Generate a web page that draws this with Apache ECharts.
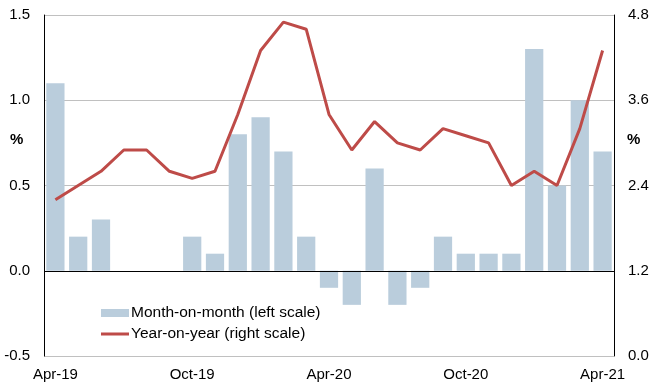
<!DOCTYPE html>
<html>
<head>
<meta charset="utf-8">
<script src="https://cdn.jsdelivr.net/npm/echarts@6/dist/echarts.min.js"></script>
<style>html,body{margin:0;padding:0;background:#fff;}#c{width:652px;height:388px;}</style>
</head>
<body>
<div id="c"></div>
<script>
var categories = ['Apr-19','May-19','Jun-19','Jul-19','Aug-19','Sep-19','Oct-19','Nov-19','Dec-19','Jan-20','Feb-20','Mar-20','Apr-20','May-20','Jun-20','Jul-20','Aug-20','Sep-20','Oct-20','Nov-20','Dec-20','Jan-21','Feb-21','Mar-21','Apr-21'];
var momValues = [1.1,0.2,0.3,0,0,0,0.2,0.1,0.8,0.9,0.7,0.2,-0.1,-0.2,0.6,-0.2,-0.1,0.2,0.1,0.1,0.1,1.3,0.5,1.0,0.7];
var yoyValues = [2.2,2.4,2.6,2.9,2.9,2.6,2.5,2.6,3.4,4.3,4.7,4.6,3.4,2.9,3.3,3.0,2.9,3.2,3.1,3.0,2.4,2.6,2.4,3.2,4.3];
var leftTicks = [-0.5,0.0,0.5,1.0,1.5];
var rightTicks = [0.0,1.2,2.4,3.6,4.8];
var seriesNames = ['Month-on-month (left scale)','Year-on-year (right scale)'];

var chart = echarts.init(document.getElementById('c'), null, {renderer:'canvas'});
var font = 'Liberation Sans, Arial, sans-serif';
var lineIcon = 'path://M0,0L0.01,0L0.01,0.01Z M0,2.5H28V5.5H0Z M0,8L0.01,8L0.01,7.99Z';
chart.setOption({
  animation:false,
  backgroundColor:'#fff',
  textStyle:{fontFamily:font},
  grid:{left:44,right:38,top:15,bottom:32,containLabel:false},
  legend:{
    orient:'vertical',left:96,top:300,itemWidth:28,itemHeight:8,itemGap:5,
    textStyle:{fontSize:15.5,color:'#000',fontFamily:font,padding:[0,0,0,-3]},
    data:[{name:seriesNames[0],icon:'rect'},{name:seriesNames[1],icon:lineIcon,itemStyle:{color:'#BE4B48'}}]
  },
  xAxis:{
    type:'category',data:categories,
    axisLine:{show:false},axisTick:{show:false},
    axisLabel:{interval:5,fontSize:15,color:'#000',margin:11,fontFamily:font},
    splitLine:{show:false}
  },
  yAxis:[{
    type:'value',min:leftTicks[0],max:leftTicks[leftTicks.length-1],interval:0.5,
    axisLine:{show:true,lineStyle:{color:'#000',width:1}},axisTick:{show:false},
    axisLabel:{fontSize:15,color:'#000',margin:14,fontFamily:font,formatter:function(v){return v.toFixed(1);}},
    splitLine:{show:true,lineStyle:{color:'#c0c0c0',width:1}}
  },{
    type:'value',min:rightTicks[0],max:rightTicks[rightTicks.length-1],interval:1.2,position:'right',
    axisLine:{show:true,lineStyle:{color:'#000',width:1}},axisTick:{show:false},
    axisLabel:{fontSize:15,color:'#000',margin:14,fontFamily:font,formatter:function(v){return v.toFixed(1);}},
    splitLine:{show:false}
  }],
  graphic:[
    {type:'text',left:10,top:132,style:{text:'%',font:'bold 15px '+font,fill:'#000'}},
    {type:'text',left:627,top:132,style:{text:'%',font:'bold 15px '+font,fill:'#000'}}
  ],
  series:[{
    name:seriesNames[0],type:'bar',data:momValues,yAxisIndex:0,
    barCategoryGap:'20%',
    itemStyle:{color:'#BACDDC'},
    markLine:{silent:true,symbol:'none',label:{show:false},
      lineStyle:{color:'#000',width:1.2,type:'solid'},data:[{yAxis:0}]}
  },{
    name:seriesNames[1],type:'line',data:yoyValues,yAxisIndex:1,
    symbol:'none',showSymbol:false,smooth:false,z:5,
    lineStyle:{color:'#BE4B48',width:3},itemStyle:{color:'#BE4B48'}
  }]
});
</script>
</body>
</html>
